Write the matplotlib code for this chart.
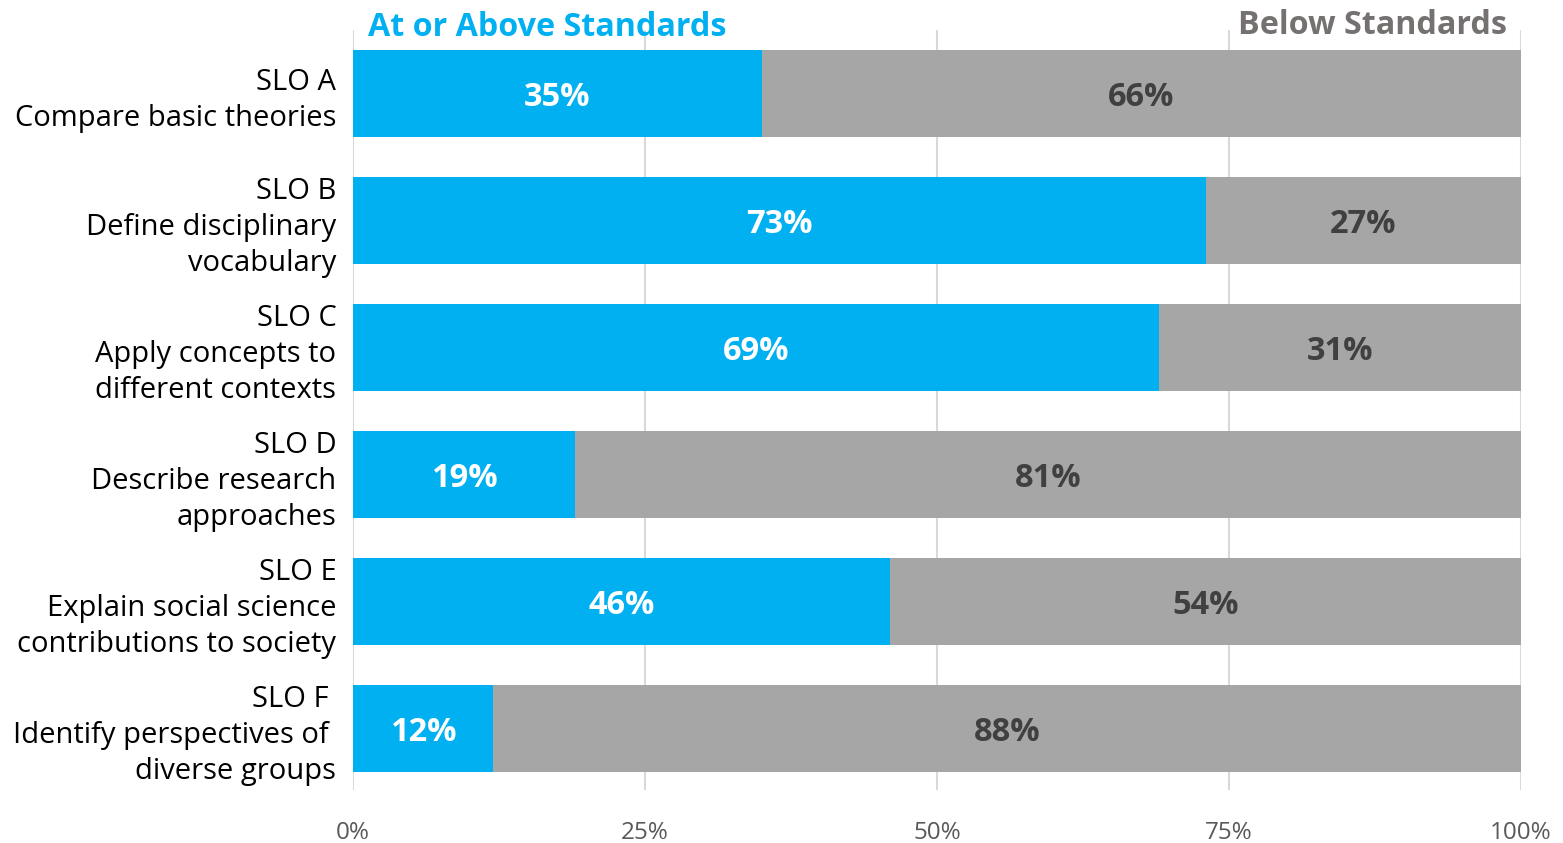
import matplotlib
matplotlib.use("Agg")
import matplotlib.pyplot as plt
import numpy as np

plt.rcParams["font.family"] = ["Open Sans", "DejaVu Sans"]

categories = [
    "SLO A\nCompare basic theories",
    "SLO B\nDefine disciplinary\nvocabulary",
    "SLO C\nApply concepts to\ndifferent contexts",
    "SLO D\nDescribe research\napproaches",
    "SLO E\nExplain social science\ncontributions to society",
    "SLO F \nIdentify perspectives of \ndiverse groups",
]
at_or_above = [35, 73, 69, 19, 46, 12]
below = [66, 27, 31, 81, 54, 88]
xticks = [0, 25, 50, 75, 100]

BLUE = "#00B0F0"
GRAY = "#A6A6A6"

fig = plt.figure(figsize=(15.63, 8.43), dpi=100)
ax = fig.add_axes([353 / 1563, 1 - 790 / 843, (1521 - 353) / 1563, (790 - 30) / 843])

y = np.arange(len(categories))
h = 0.685
ax.barh(y, at_or_above, height=h, color=BLUE, zorder=2)
ax.barh(y, below, left=at_or_above, height=h, color=GRAY, zorder=2)

for yi, a, b in zip(y, at_or_above, below):
    ax.text(a / 2, yi, f"{a}%", ha="center", va="center_baseline", color="white",
            fontsize=23.5, fontweight="bold", zorder=3)
    ax.text(a + min(b, 100 - a) / 2, yi, f"{b}%", ha="center", va="center_baseline",
            color="#404040", fontsize=23.5, fontweight="bold", zorder=3)

ax.set_xlim(0, 100)
ax.set_ylim(5.484, -0.5)
ax.set_xticks(xticks)
ax.set_xticklabels([f"{t}%" for t in xticks], fontsize=17.5, color="#595959")
ax.set_yticks(y)
ax.set_yticklabels(categories, fontsize=21, color="black", linespacing=1.32)
ax.tick_params(axis="both", length=0)
ax.tick_params(axis="x", pad=22)
ax.tick_params(axis="y", pad=12)
ax.grid(axis="x", color="#D9D9D9", linewidth=1.5, zorder=0)
for s in ax.spines.values():
    s.set_visible(False)

fig.text(368 / 1563, 1 - 27 / 843, "At or Above Standards", color=BLUE,
         fontsize=23.2, fontweight="bold", ha="left", va="center")
fig.text(1507 / 1563, 1 - 25 / 843, "Below Standards", color="#767171",
         fontsize=23.2, fontweight="bold", ha="right", va="center")

fig.savefig("out.png", dpi=100)
